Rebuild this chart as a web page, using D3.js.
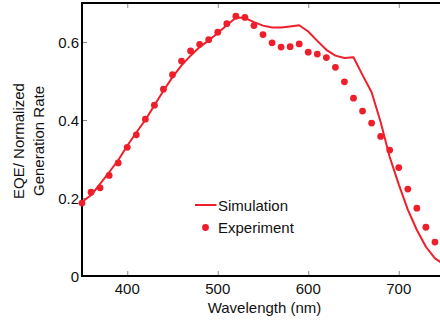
<!DOCTYPE html>
<html>
<head>
<meta charset="utf-8">
<script src="https://cdn.jsdelivr.net/npm/d3@7"></script>
<style>
  html, body { margin: 0; padding: 0; background: #fff; overflow: hidden; }
  svg { display: block; }
  text { font-family: "Liberation Sans", Arial, Helvetica, sans-serif; fill: #111; }
</style>
</head>
<body>
<svg id="chart" width="440" height="322"></svg>
<script>
// Wavelength grid (nm)
const simWavelength = [350,360,370,380,390,400,410,420,430,440,450,460,470,480,490,500,510,520,530,540,550,560,570,580,590,600,610,620,630,640,650,660,670,680,690,700,710,720,730,740,750];
// Simulated normalized generation rate
const simValue = [0.190,0.207,0.236,0.266,0.297,0.334,0.368,0.400,0.438,0.475,0.510,0.540,0.565,0.587,0.604,0.623,0.643,0.662,0.662,0.651,0.642,0.637,0.637,0.640,0.643,0.627,0.603,0.580,0.565,0.559,0.561,0.515,0.471,0.395,0.305,0.235,0.170,0.118,0.075,0.045,0.030];

// Measured EQE
const expWavelength = [350,360,370,380,390,400,410,420,430,440,450,460,470,480,490,500,510,520,530,540,550,560,570,580,590,600,610,620,630,640,650,660,670,680,690,700,710,720,730,740];
const expValue = [0.187,0.215,0.226,0.258,0.290,0.330,0.362,0.402,0.438,0.479,0.516,0.551,0.577,0.594,0.606,0.625,0.647,0.666,0.663,0.642,0.619,0.598,0.587,0.588,0.595,0.574,0.569,0.560,0.535,0.498,0.456,0.423,0.392,0.358,0.323,0.278,0.223,0.174,0.125,0.087];

const xTicks = [400, 500, 600, 700];
const yTicks = [0, 0.2, 0.4, 0.6];
const seriesNames = ["Simulation", "Experiment"];

const red = "#ee1f2b";
const svg = d3.select("#chart");

const m = { left: 82, top: 3, right: 444, bottom: 276 };
const x = d3.scaleLinear().domain([350, 750]).range([m.left, m.right]);
const y = d3.scaleLinear().domain([0, 0.7]).range([m.bottom, m.top]);

// Inward ticks on all four sides
svg.append("g").attr("transform", `translate(0,${m.bottom})`)
  .call(d3.axisTop(x).tickValues(xTicks).tickSize(5).tickFormat(""))
  .call(g => g.select(".domain").remove())
  .call(g => g.selectAll(".tick line").attr("stroke", "#888"));
svg.append("g").attr("transform", `translate(0,${m.top})`)
  .call(d3.axisBottom(x).tickValues(xTicks).tickSize(5).tickFormat(""))
  .call(g => g.select(".domain").remove())
  .call(g => g.selectAll(".tick line").attr("stroke", "#888"));
svg.append("g").attr("transform", `translate(${m.left},0)`)
  .call(d3.axisRight(y).tickValues(yTicks).tickSize(5).tickFormat(""))
  .call(g => g.select(".domain").remove())
  .call(g => g.selectAll(".tick line").attr("stroke", "#888"));

// Tick labels
svg.append("g").selectAll("text").data(xTicks).join("text")
  .attr("x", d => x(d)).attr("y", m.bottom + 18)
  .attr("text-anchor", "middle").attr("font-size", 15)
  .text(d => d);
svg.append("g").selectAll("text").data(yTicks).join("text")
  .attr("x", m.left - 3).attr("y", d => y(d) + 5.5)
  .attr("text-anchor", "end").attr("font-size", 15)
  .text(d => d === 0 ? "0" : d3.format(".1f")(d));

// Frame
svg.append("path")
  .attr("d", `M${m.right},${m.top}H${m.left}V${m.bottom}H${m.right}`)
  .attr("fill", "none").attr("stroke", "#000").attr("stroke-width", 2);

// Simulation curve
const line = d3.line().x((d, i) => x(simWavelength[i])).y(d => y(d));
svg.append("path").datum(simValue)
  .attr("d", line)
  .attr("fill", "none").attr("stroke", red).attr("stroke-width", 2)
  .attr("stroke-linejoin", "round");

// Experimental points
svg.append("g").selectAll("circle").data(expValue).join("circle")
  .attr("cx", (d, i) => x(expWavelength[i]))
  .attr("cy", d => y(d))
  .attr("r", 3.4)
  .attr("fill", red);

// Axis titles
svg.append("text")
  .attr("x", 264.5).attr("y", 312.5)
  .attr("text-anchor", "middle").attr("font-size", 15)
  .text("Wavelength (nm)");
const yTitle = svg.append("text")
  .attr("transform", "translate(0,141) rotate(-90)")
  .attr("text-anchor", "middle").attr("font-size", 15);
yTitle.append("tspan").attr("x", 0).attr("y", 23.5).text("EQE/ Normalized");
yTitle.append("tspan").attr("x", 0).attr("y", 43.5).text("Generation Rate");

// Legend
const lg = svg.append("g");
lg.append("line").attr("x1", 195).attr("x2", 216.5).attr("y1", 205).attr("y2", 205)
  .attr("stroke", red).attr("stroke-width", 2);
lg.append("circle").attr("cx", 205.5).attr("cy", 227.5).attr("r", 3.4).attr("fill", red);
lg.append("text").attr("x", 218).attr("y", 210.5).attr("font-size", 15).text(seriesNames[0]);
lg.append("text").attr("x", 218).attr("y", 233).attr("font-size", 15).text(seriesNames[1]);
</script>
</body>
</html>
